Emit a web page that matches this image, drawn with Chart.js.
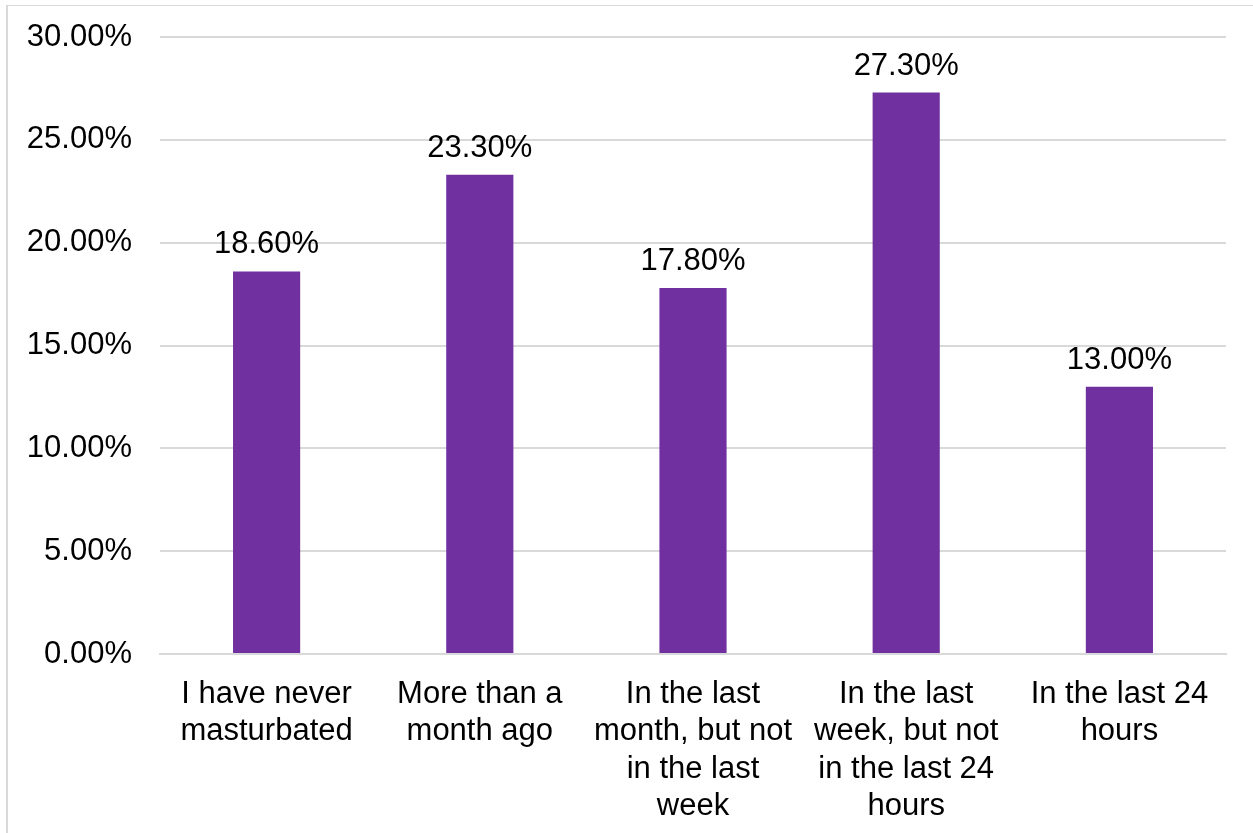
<!DOCTYPE html>
<html>
<head>
<meta charset="utf-8">
<script src="https://cdn.jsdelivr.net/npm/chart.js@4/dist/chart.umd.min.js"></script>
<style>
  html, body { margin: 0; padding: 0; background: #fff; overflow: hidden; }
  #wrap { position: absolute; left: 0; top: 0; width: 1253px; height: 833px; }
  #frame { position: absolute; left: 6px; top: 5px; width: 1260px; height: 850px;
           border-left: 2px solid #d9d9d9; border-top: 1px solid #d9d9d9; pointer-events: none; }
</style>
</head>
<body>
<div id="wrap">
  <canvas id="myChart" width="1253" height="833"></canvas>
  <div id="frame"></div>
</div>
<script>
var categories = [
    ['I have never', 'masturbated'],
    ['More than a', 'month ago'],
    ['In the last', 'month, but not', 'in the last', 'week'],
    ['In the last', 'week, but not', 'in the last 24', 'hours'],
    ['In the last 24', 'hours']
];
var values = [18.6, 23.3, 17.8, 27.3, 13.0];
var yTicks = [0, 5, 10, 15, 20, 25, 30];

var FONT = 'Liberation Sans, Arial, sans-serif';

// draws the value above each bar
var barLabels = {
    id: 'barLabels',
    afterDatasetsDraw: function (chart) {
        var ctx = chart.ctx;
        var meta = chart.getDatasetMeta(0);
        ctx.save();
        ctx.font = '31px ' + FONT;
        ctx.fillStyle = '#000';
        ctx.textAlign = 'center';
        ctx.textBaseline = 'alphabetic';
        meta.data.forEach(function (bar, i) {
            ctx.fillText(values[i].toFixed(2) + '%', bar.x, bar.y - 18);
        });
        ctx.restore();
    }
};

var ctx = document.getElementById('myChart').getContext('2d');
var chart = new Chart(ctx, {
    type: 'bar',
    data: {
        labels: categories,
        datasets: [{
            data: values,
            backgroundColor: '#7030a0',
            categoryPercentage: 1,
            barPercentage: 0.315
        }]
    },
    options: {
        responsive: false,
        animation: false,
        layout: { padding: { top: 37, right: 27, left: 0, bottom: 0 } },
        plugins: {
            legend: { display: false },
            tooltip: { enabled: false }
        },
        scales: {
            x: {
                afterFit: function (scale) { scale.height = 179; },
                grid: { display: false, drawTicks: false },
                border: { display: true, color: '#d9d9d9', width: 2 },
                ticks: {
                    color: '#000',
                    font: { family: FONT, size: 31 },
                    padding: 22,
                    maxRotation: 0,
                    autoSkip: false
                }
            },
            y: {
                min: 0,
                max: 30,
                afterBuildTicks: function (scale) {
                    scale.ticks = yTicks.map(function (v) { return { value: v }; });
                },
                afterFit: function (scale) {
                    scale.width = 160;
                    scale.paddingTop = 0;
                    scale.paddingBottom = 0;
                },
                grid: { color: '#d9d9d9', lineWidth: 2, drawTicks: false },
                border: { display: false },
                ticks: {
                    color: '#000',
                    font: { family: FONT, size: 31 },
                    padding: 28,
                    callback: function (v) { return v.toFixed(2) + '%'; }
                }
            }
        }
    },
    plugins: [barLabels]
});
</script>
</body>
</html>
